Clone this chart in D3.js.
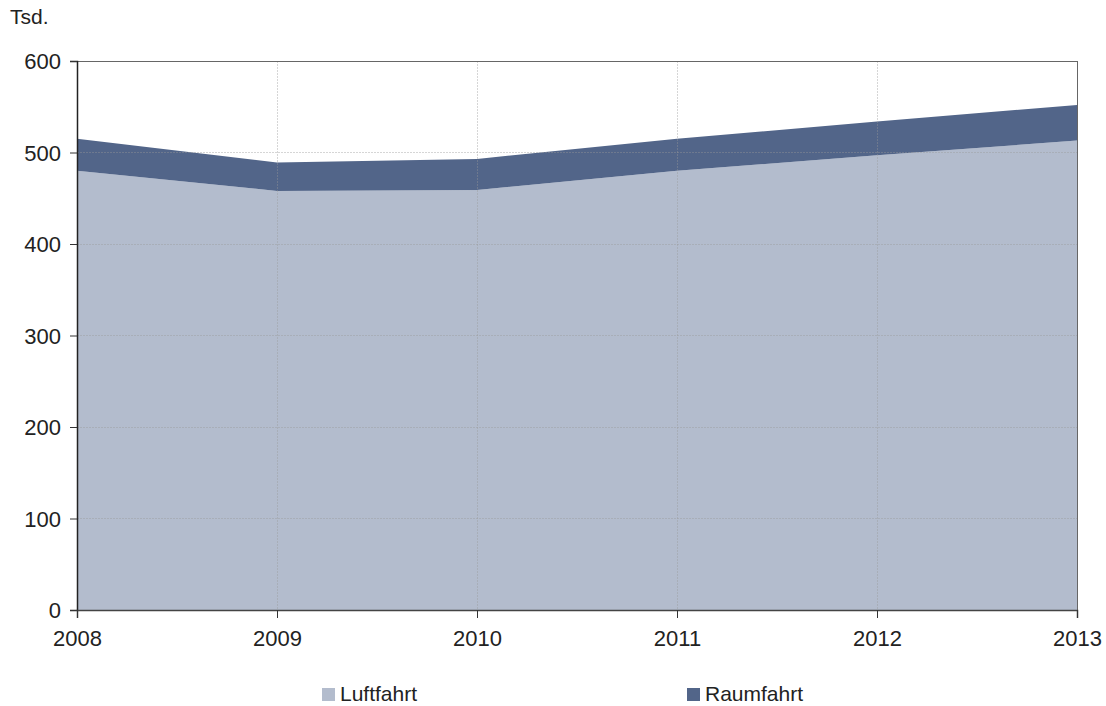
<!DOCTYPE html>
<html>
<head>
<meta charset="utf-8">
<script src="https://cdn.jsdelivr.net/npm/d3@7"></script>
<style>
  body { margin: 0; background: #fff; }
  text { font-family: "Liberation Sans", Arial, sans-serif; fill: #222; }
</style>
</head>
<body>
<div id="chart"></div>
<script>
// years on the x axis
var years = [2008, 2009, 2010, 2011, 2012, 2013];
// Tsd. per series (stacked)
var luftfahrt = [480, 458, 459, 480, 497, 513];
var raumfahrt = [35, 31, 34, 35, 37, 39];
var seriesNames = ["Luftfahrt", "Raumfahrt"];
var yTicks = [0, 100, 200, 300, 400, 500, 600];

var svgWidth = 1106, svgHeight = 706;
var margin = { top: 61, right: 29, bottom: 96, left: 77 };
var width = svgWidth - margin.left - margin.right;
var height = svgHeight - margin.top - margin.bottom;

var colors = { Luftfahrt: "#b3bccd", Raumfahrt: "#526589" };

var svg = d3.select("#chart").append("svg")
    .attr("width", svgWidth)
    .attr("height", svgHeight);

var g = svg.append("g").attr("transform", `translate(${margin.left},${margin.top})`);

var x = d3.scaleLinear().domain([2008, 2013]).range([0, width]);
var y = d3.scaleLinear().domain([0, 600]).range([height, 0]);

// build rows for the stack
var rows = years.map(function(yr, i) {
    return { year: yr, Luftfahrt: luftfahrt[i], Raumfahrt: raumfahrt[i] };
});
var stacked = d3.stack().keys(seriesNames)(rows);

var area = d3.area()
    .x(d => x(d.data.year))
    .y0(d => y(d[0]))
    .y1(d => y(d[1]));

g.selectAll(".layer").data(stacked).enter().append("path")
    .attr("class", "layer")
    .attr("d", area)
    .attr("fill", d => colors[d.key]);

// dotted grid drawn over the areas
g.selectAll(".hgrid").data(yTicks.slice(1, -1)).enter().append("line")
    .attr("x1", 0).attr("x2", width)
    .attr("y1", d => y(d)).attr("y2", d => y(d))
    .attr("stroke", "#999").attr("stroke-opacity", 0.4)
    .attr("stroke-dasharray", "2,1").attr("shape-rendering", "crispEdges");

g.selectAll(".vgrid").data(years.slice(1, -1)).enter().append("line")
    .attr("y1", 0).attr("y2", height)
    .attr("x1", d => x(d)).attr("x2", d => x(d))
    .attr("stroke", "#999").attr("stroke-opacity", 0.4)
    .attr("stroke-dasharray", "2,1").attr("shape-rendering", "crispEdges");

// frame: top and right border
g.append("line").attr("x1", 0).attr("x2", width).attr("y1", 0).attr("y2", 0)
    .attr("stroke", "#666").attr("shape-rendering", "crispEdges");
g.append("line").attr("x1", width).attr("x2", width).attr("y1", 0).attr("y2", height)
    .attr("stroke", "#666").attr("shape-rendering", "crispEdges");

// axes
var leftAxis = d3.axisLeft(y).tickValues(yTicks).tickSize(7).tickPadding(9).tickFormat(d3.format("d"));
var bottomAxis = d3.axisBottom(x).tickValues(years).tickSize(8).tickPadding(12).tickFormat(d3.format("d"));

var yAxisG = g.append("g").call(leftAxis);
var xAxisG = g.append("g").attr("transform", `translate(0,${height})`).call(bottomAxis);

[yAxisG, xAxisG].forEach(function(a) {
    a.select(".domain").attr("stroke", "#222").attr("stroke-width", 1.5);
    a.selectAll(".tick line").attr("stroke", "#333");
    a.selectAll("text").style("font-size", "22px").attr("fill", "#222")
        .style("font-family", '"Liberation Sans", Arial, sans-serif');
});
xAxisG.select(".domain").attr("stroke", "#444");
yAxisG.selectAll(".tick text").attr("dy", "0.36em");

// unit label
svg.append("text").attr("x", 10).attr("y", 24).style("font-size", "21px").text("Tsd.");

// legend
var legendX = [322, 687];
var legend = svg.selectAll(".legend").data(seriesNames).enter().append("g")
    .attr("transform", (d, i) => `translate(${legendX[i]},688)`);
legend.append("rect").attr("width", 13).attr("height", 13).attr("fill", d => colors[d]);
legend.append("text").attr("x", 18).attr("y", 13).style("font-size", "21px").text(d => d);
</script>
</body>
</html>
